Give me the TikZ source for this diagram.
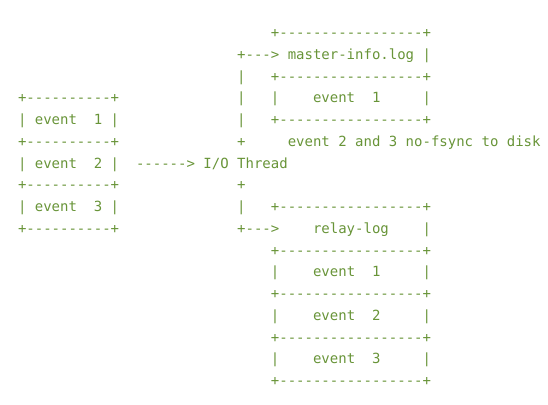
\documentclass[tikz,border=0pt]{standalone}
\usepackage{fontspec}
\newfontfamily\asciifont[Ligatures=TeXOff]{DejaVu Sans Mono}
\definecolor{termgreen}{RGB}{104,148,56}
\tikzset{
  ascii/.style={anchor=base west, inner sep=0pt, text=termgreen,
    font=\asciifont\fontsize{14}{16}\selectfont},
}
\begin{document}
\begin{tikzpicture}[x=8.43pt, y=-21.75pt]
  \useasboundingbox (0pt, 0pt) rectangle (548pt, -404pt);
  \begin{scope}[shift={(17.8pt, -37.5pt)}]
  % events on the left
  \node[ascii] (leftsep0) at (0, 3) {+----------+};
  \node[ascii] (leftev1)  at (0, 4) {|~event~~1~|};
  \node[ascii] (leftsep1) at (0, 5) {+----------+};
  \node[ascii] (leftev2)  at (0, 6) {|~event~~2~|};
  \node[ascii] (leftsep2) at (0, 7) {+----------+};
  \node[ascii] (leftev3)  at (0, 8) {|~event~~3~|};
  \node[ascii] (leftsep3) at (0, 9) {+----------+};

  % I/O thread
  \node[ascii] (arrow)  at (14, 6) {------>};
  \node[ascii] (thread) at (22, 6) {I/O~Thread};

  % branch to master-info.log
  \node[ascii] (mastertop) at (30, 0) {+-----------------+};
  \node[ascii] (master)    at (26, 1) {+--->~master-info.log~|};
  \node[ascii] (mastersep) at (26, 2) {|~~~+-----------------+};
  \node[ascii] (masterev1) at (26, 3) {|~~~|~~~~event~~1~~~~~|};
  \node[ascii] (masterbot) at (26, 4) {|~~~+-----------------+};
  \node[ascii] (nofsync)   at (26, 5) {+~~~~~event~2~and~3~no-fsync~to~disk};

  % branch to relay-log
  \node[ascii] (joint)    at (26, 7) {+};
  \node[ascii] (relaytop) at (26, 8) {|~~~+-----------------+};
  \node[ascii] (relay)    at (26, 9) {+--->~~~~relay-log~~~~|};
  \node[ascii] (relaysep0) at (30, 10) {+-----------------+};
  \node[ascii] (relayev1)  at (30, 11) {|~~~~event~~1~~~~~|};
  \node[ascii] (relaysep1) at (30, 12) {+-----------------+};
  \node[ascii] (relayev2)  at (30, 13) {|~~~~event~~2~~~~~|};
  \node[ascii] (relaysep2) at (30, 14) {+-----------------+};
  \node[ascii] (relayev3)  at (30, 15) {|~~~~event~~3~~~~~|};
  \node[ascii] (relaysep3) at (30, 16) {+-----------------+};
  \end{scope}
\end{tikzpicture}
\end{document}
